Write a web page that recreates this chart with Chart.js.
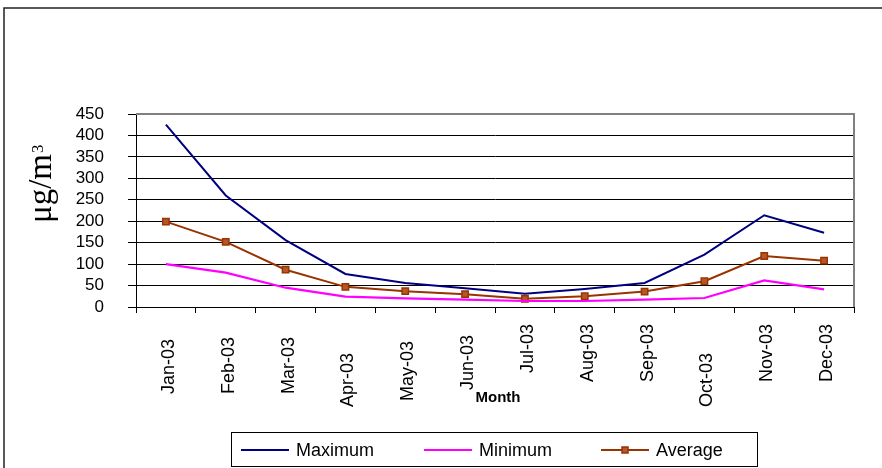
<!DOCTYPE html>
<html lang="en">
<head>
<meta charset="UTF-8">
<title>Monthly concentration 2003</title>
<script src="https://cdn.jsdelivr.net/npm/chart.js@4.4.1/dist/chart.umd.min.js"></script>
<style>
    html, body { margin: 0; padding: 0; background: #fff; }
    #wrap { position: relative; width: 882px; height: 468px; }
</style>
</head>
<body>
<div id="wrap"><canvas id="chart" width="882" height="468"></canvas></div>
<script>
// data
const months = ['Jan-03', 'Feb-03', 'Mar-03', 'Apr-03', 'May-03', 'Jun-03',
                'Jul-03', 'Aug-03', 'Sep-03', 'Oct-03', 'Nov-03', 'Dec-03'];
const maximum = [425, 260, 156, 77, 56, 44, 31, 42, 56, 122, 214, 173];
const minimum = [100, 80, 45, 24, 20, 17, 14, 14, 17, 21, 62, 41];
const average = [199, 152, 87, 47, 37, 30, 19, 25, 36, 60, 119, 108];
const yTicks = [0, 50, 100, 150, 200, 250, 300, 350, 400, 450];

// how far below the axis each month label ends (the old chart staggers them)
const labelGap = [32, 30, 30, 46, 34, 28, 17, 17, 17, 46, 17, 17];

const SANS = '"Liberation Sans", Arial, sans-serif';
const SERIF = '"Liberation Serif", "Times New Roman", serif';

// frame, plot border, month labels, axis titles and legend
const decor = {
    id: 'decor',
    beforeDraw(chart) {
        const ctx = chart.ctx;
        ctx.save();
        ctx.fillStyle = '#fff';
        ctx.fillRect(0, 0, chart.width, chart.height);
        ctx.strokeStyle = '#222';
        ctx.lineWidth = 1.5;
        ctx.beginPath();
        ctx.moveTo(4, chart.height);
        ctx.lineTo(4, 8);
        ctx.lineTo(chart.width, 8);
        ctx.stroke();
        ctx.restore();
    },
    afterDraw(chart) {
        const ctx = chart.ctx;
        const a = chart.chartArea;
        const xs = chart.scales.x;

        ctx.save();
        // grey top and right edge of the plot
        ctx.strokeStyle = '#808080';
        ctx.lineWidth = 2;
        ctx.beginPath();
        ctx.moveTo(a.left, a.top);
        ctx.lineTo(a.right, a.top);
        ctx.lineTo(a.right, a.bottom);
        ctx.stroke();

        // rotated month labels
        ctx.fillStyle = '#000';
        ctx.font = '18px ' + SANS;
        ctx.textAlign = 'right';
        ctx.textBaseline = 'middle';
        months.forEach((m, i) => {
            ctx.save();
            ctx.translate(xs.getPixelForValue(i) + 3, a.bottom + labelGap[i]);
            ctx.rotate(-Math.PI / 2);
            ctx.fillText(m, 0, 0);
            ctx.restore();
        });

        // x title
        ctx.font = 'bold 15px ' + SANS;
        ctx.textAlign = 'center';
        ctx.fillText('Month', 498, 398);

        // y title with superscript
        ctx.save();
        ctx.translate(51, 223);
        ctx.rotate(-Math.PI / 2);
        ctx.textAlign = 'left';
        ctx.textBaseline = 'alphabetic';
        ctx.font = '33px ' + SERIF;
        ctx.fillText('\u03bcg/m', 0, 0);
        const w = ctx.measureText('\u03bcg/m').width;
        ctx.font = '17px ' + SERIF;
        ctx.fillText('3', w + 1, -8);
        ctx.restore();

        // legend box
        ctx.strokeStyle = '#000';
        ctx.lineWidth = 1;
        ctx.strokeRect(231.5, 432.5, 526, 34);
        const slots = [241, 424, 601];
        const ly = 450;
        ctx.font = '18px ' + SANS;
        ctx.textAlign = 'left';
        ctx.textBaseline = 'middle';
        chart.data.datasets.forEach((ds, i) => {
            const x0 = slots[i];
            ctx.strokeStyle = ds.borderColor;
            ctx.lineWidth = 2;
            ctx.beginPath();
            ctx.moveTo(x0, ly);
            ctx.lineTo(x0 + 48, ly);
            ctx.stroke();
            if (ds.pointRadius > 0) {
                ctx.fillStyle = ds.pointBackgroundColor;
                ctx.strokeStyle = ds.pointBorderColor;
                ctx.lineWidth = 1.5;
                ctx.fillRect(x0 + 21, ly - 3, 6, 6);
                ctx.strokeRect(x0 + 21, ly - 3, 6, 6);
            }
            ctx.fillStyle = '#000';
            ctx.fillText(ds.label, x0 + 55, ly + 1);
        });
        ctx.restore();
    }
};

new Chart(document.getElementById('chart'), {
    type: 'line',
    data: {
        labels: months,
        datasets: [
            {
                label: 'Maximum',
                data: maximum,
                borderColor: '#000080',
                borderWidth: 2,
                pointRadius: 0,
                tension: 0
            },
            {
                label: 'Minimum',
                data: minimum,
                borderColor: '#ff00ff',
                borderWidth: 2.2,
                pointRadius: 0,
                tension: 0
            },
            {
                label: 'Average',
                data: average,
                borderColor: '#993300',
                borderWidth: 2,
                pointStyle: 'rect',
                pointRadius: 4.5,
                pointBackgroundColor: '#b4582a',
                pointBorderColor: '#993300',
                pointBorderWidth: 1.5,
                tension: 0
            }
        ]
    },
    options: {
        responsive: false,
        animation: false,
        layout: { padding: { top: 114, right: 28, left: 0, bottom: 0 } },
        plugins: {
            legend: { display: false },
            title: { display: false },
            tooltip: { enabled: false }
        },
        scales: {
            x: {
                type: 'category',
                offset: true,
                afterFit: s => { s.height = 161; },
                grid: {
                    offset: true,
                    drawOnChartArea: false,
                    drawTicks: true,
                    tickLength: 6,
                    color: '#000',
                    tickColor: '#000'
                },
                border: { color: '#000', width: 1 },
                ticks: { display: false }
            },
            y: {
                min: 0,
                max: 450,
                afterFit: s => { s.width = 136; },
                afterBuildTicks: s => { s.ticks = yTicks.map(v => ({ value: v })); },
                grid: {
                    color: '#000',
                    tickColor: '#000',
                    tickLength: 8,
                    lineWidth: 1
                },
                border: { color: '#000', width: 1 },
                ticks: {
                    autoSkip: false,
                    padding: 24,
                    color: '#000',
                    font: { family: SANS, size: 17 }
                }
            }
        }
    },
    plugins: [decor]
});
</script>
</body>
</html>
